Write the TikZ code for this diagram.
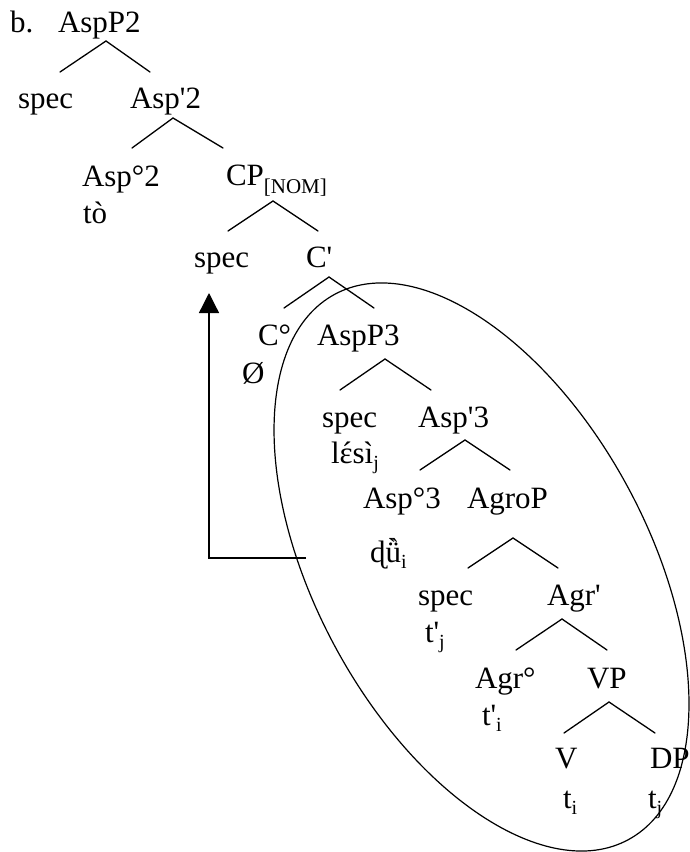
\documentclass[tikz,border=0pt]{standalone}
\usepackage{fontspec}
\setmainfont{Liberation Serif}[Ligatures=TeXOff]
\usetikzlibrary{arrows.meta}
\newcommand{\sbs}[1]{\raisebox{-6pt}{\fontsize{20}{20}\selectfont #1}}
\newcommand{\sbn}[1]{\raisebox{-8pt}{\fontsize{21}{21}\selectfont #1}}
\newcommand{\epsacute}{\ooalign{ɛ\cr\hidewidth\kern2pt´\hidewidth\cr}}
\newcommand{\udgrave}{\ooalign{ü\cr\hidewidth\raisebox{6pt}{\fontsize{26}{26}\selectfont`\kern-6pt`}\hidewidth\cr}}
\tikzset{
  lab/.style={anchor=base west, inner sep=0pt, outer sep=0pt, font=\fontsize{31}{36}\selectfont},
  branch/.style={line width=1.3pt, line cap=round},
  mover/.style={line width=1.3pt, -{Triangle[width=20pt,length=20pt]}},
}
\begin{document}
\begin{tikzpicture}[x=1pt,y=-1pt]
\useasboundingbox (0,0) rectangle (689,852);
% labels
\node[lab] (b)      at (10,32)  {b.};
\node[lab] (aspp2)  at (58,32)  {AspP2};
\node[lab] (spec1)  at (18,108) {spec};
\node[lab] (asp2b)  at (130,108) {Asp'2};
\node[lab] (asp2h)  at (82,186) {Asp°2};
\node[lab] (to)     at (83,223) {tò};
\node[lab] (cp)     at (226,185) {CP\sbn{[NOM]}};
\node[lab] (spec2)  at (194,267) {spec};
\node[lab] (cbar)   at (306,267) {C'};
\node[lab] (chead)  at (258,345) {C°};
\node[lab] (empty)  at (242,383) {Ø};
\node[lab] (aspp3)  at (317,345) {AspP3};
\node[lab] (spec3)  at (322,427) {spec};
\node[lab] (lesi)   at (331,463) {l\epsacute sì\sbs{j}};
\node[lab] (asp3b)  at (418,427) {Asp'3};
\node[lab] (asp3h)  at (363,508) {Asp°3};
\node[lab] (du)     at (370,562) {ɖ\udgrave\sbs{i}};
\node[lab] (agrop)  at (467,508) {AgroP};
\node[lab] (spec4)  at (418,605) {spec};
\node[lab] (tj1)    at (425,642) {t'\sbs{j}};
\node[lab] (agrbar) at (547,605) {Agr'};
\node[lab] (agrh)   at (475,688) {Agr°};
\node[lab] (ti1)    at (482,725) {t'\sbs{i}};
\node[lab] (vp)     at (587,688) {VP};
\node[lab] (v)      at (555,768) {V};
\node[lab] (ti2)    at (563,808) {t\sbs{i}};
\node[lab] (dp)     at (650,768) {DP};
\node[lab] (tj2)    at (648,808) {t\sbs{j}};
% branch coordinates
\coordinate (a1) at (106,41);  \coordinate (l1) at (60,72);   \coordinate (r1) at (150,72);
\coordinate (a2) at (173,118); \coordinate (l2) at (132,148); \coordinate (r2) at (223,148);
\coordinate (a3) at (273,201); \coordinate (l3) at (228,231); \coordinate (r3) at (318,231);
\coordinate (a4) at (329,277); \coordinate (l4) at (284,308); \coordinate (r4) at (374,308);
\coordinate (a5) at (385,359); \coordinate (l5) at (340,390); \coordinate (r5) at (431,390);
\coordinate (a6) at (465,440); \coordinate (l6) at (420,470); \coordinate (r6) at (510,470);
\coordinate (a7) at (513,538); \coordinate (l7) at (468,568); \coordinate (r7) at (558,568);
\coordinate (a8) at (562,619); \coordinate (l8) at (516,650); \coordinate (r8) at (607,650);
\coordinate (a9) at (609,702); \coordinate (l9) at (564,733); \coordinate (r9) at (655,733);
\foreach \i in {1,...,9}{\draw[branch] (l\i) -- (a\i) -- (r\i);}
% movement arrow
\coordinate (mstart) at (306,558);
\coordinate (mcorner) at (209,558);
\coordinate (mtip) at (209,293);
\draw[mover] (mstart) -- (mcorner) -- (mtip);
% ellipse
\coordinate (ec) at (481.5,567);
\draw[line width=1.2pt, rotate around={-61.75:(ec)}] (ec) ellipse [x radius=309.7pt, y radius=166.7pt];
\end{tikzpicture}
\end{document}
